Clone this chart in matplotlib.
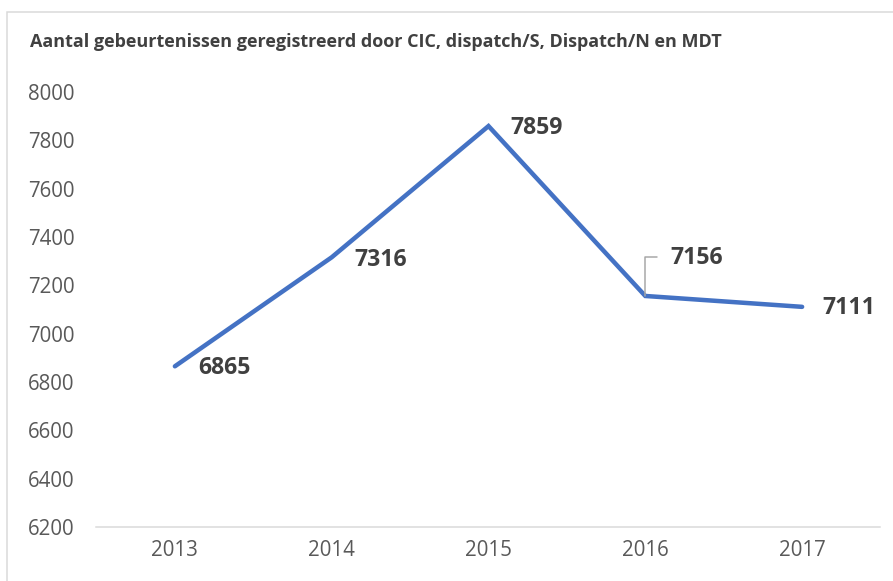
import matplotlib
matplotlib.use("Agg")
import matplotlib.pyplot as plt
from matplotlib.patches import Rectangle

years = ['2013', '2014', '2015', '2016', '2017']
counts = [6865, 7316, 7859, 7156, 7111]
# label offsets in points (dpi 72 -> 1pt = 1px)
offsets = [(23, -2), (23, -3), (22, -2), (25, 38), (20, -1)]
title = 'Aantal gebeurtenissen geregistreerd door CIC, dispatch/S, Dispatch/N en MDT'

plt.rcParams['font.family'] = ['Open Sans', 'DejaVu Sans']

fig = plt.figure(figsize=(893 / 72, 581 / 72), dpi=72)
fig.patch.set_facecolor('white')

# chart border (cropped on right and bottom)
fig.add_artist(Rectangle((7 / 893, -0.1), 1.1, 1 - 12 / 581 + 0.1,
                         transform=fig.transFigure, fill=False,
                         edgecolor='#d9d9d9', linewidth=1.5))

ax = fig.add_axes([96.5 / 893, 54 / 581, 784 / 893, 435 / 581])
x = list(range(len(years)))
ax.plot(x, counts, color='#4472C4', linewidth=4.5, solid_capstyle='round',
        solid_joinstyle='miter')

ax.set_xlim(-0.5, len(years) - 0.5)
ax.set_ylim(6200, 8000)
ax.set_yticks(range(6200, 8001, 200))
ax.set_xticks(x)
ax.set_xticklabels(years)

for s in ['top', 'right', 'left']:
    ax.spines[s].set_visible(False)
ax.spines['bottom'].set_color('#d9d9d9')
ax.spines['bottom'].set_linewidth(1.5)
ax.tick_params(axis='both', length=0, labelsize=20.5, colors='#595959')
ax.tick_params(axis='y', pad=22)
ax.tick_params(axis='x', pad=13)

for i, (v, off) in enumerate(zip(counts, offsets)):
    ax.annotate(str(v), (i, v), xytext=off, textcoords='offset points',
                ha='left', va='center', fontsize=23, fontweight='bold',
                color='#404040')

# leader line for the 2016 label
i16 = years.index('2016')
ax.annotate('', (i16, counts[i16]), xytext=(12, 39), textcoords='offset points',
            arrowprops=dict(arrowstyle='-', color='#a6a6a6', lw=1.5,
                            connectionstyle='angle,angleA=0,angleB=90,rad=0',
                            shrinkA=0, shrinkB=0))

fig.text(30 / 893, 1 - 42 / 581, title, fontsize=18, fontweight='bold',
         color='#404040', ha='left', va='center')

fig.savefig('out.png', dpi=72)
